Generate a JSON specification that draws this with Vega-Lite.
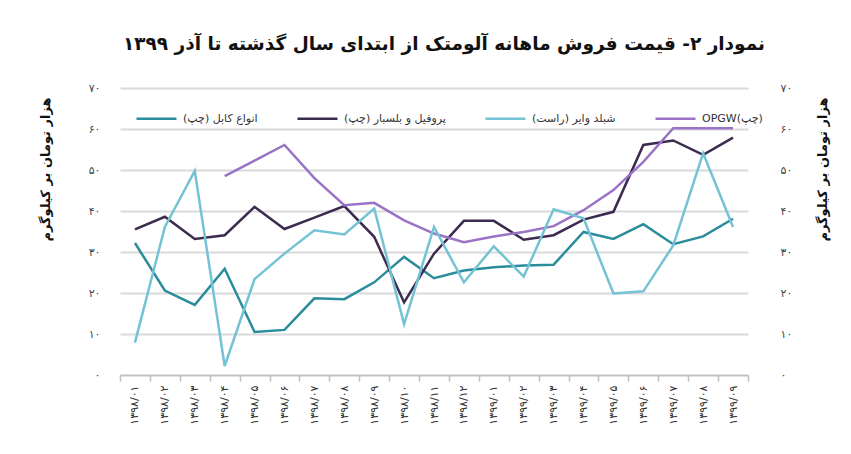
{
  "$schema": "https://vega.github.io/schema/vega-lite/v6.json",
  "width": 628,
  "height": 287,
  "autosize": {"type": "none"},
  "padding": {"left": 120, "top": 88, "right": 103, "bottom": 79},
  "background": "white",
  "config": {"font": "DejaVu Sans", "view": {"stroke": null}},
  "title": {
    "text": "نمودار ۲- قیمت فروش ماهانه آلومتک از ابتدای سال گذشته تا آذر ۱۳۹۹",
    "fontSize": 18.5,
    "fontWeight": "bold",
    "color": "#111111",
    "anchor": "middle",
    "dx": 10,
    "offset": 29
  },
  "data": {
    "values": [
      {"m": "۱۳۹۸/۰۱", "s": "انواع کابل (چپ)\u200f", "v": 32.2},
      {"m": "۱۳۹۸/۰۲", "s": "انواع کابل (چپ)\u200f", "v": 20.6},
      {"m": "۱۳۹۸/۰۳", "s": "انواع کابل (چپ)\u200f", "v": 17.1},
      {"m": "۱۳۹۸/۰۴", "s": "انواع کابل (چپ)\u200f", "v": 25.9},
      {"m": "۱۳۹۸/۰۵", "s": "انواع کابل (چپ)\u200f", "v": 10.5},
      {"m": "۱۳۹۸/۰۶", "s": "انواع کابل (چپ)\u200f", "v": 11.0},
      {"m": "۱۳۹۸/۰۷", "s": "انواع کابل (چپ)\u200f", "v": 18.7},
      {"m": "۱۳۹۸/۰۸", "s": "انواع کابل (چپ)\u200f", "v": 18.5},
      {"m": "۱۳۹۸/۰۹", "s": "انواع کابل (چپ)\u200f", "v": 22.6},
      {"m": "۱۳۹۸/۱۰", "s": "انواع کابل (چپ)\u200f", "v": 28.8},
      {"m": "۱۳۹۸/۱۱", "s": "انواع کابل (چپ)\u200f", "v": 23.6},
      {"m": "۱۳۹۸/۱۲", "s": "انواع کابل (چپ)\u200f", "v": 25.5},
      {"m": "۱۳۹۹/۰۱", "s": "انواع کابل (چپ)\u200f", "v": 26.3},
      {"m": "۱۳۹۹/۰۲", "s": "انواع کابل (چپ)\u200f", "v": 26.7},
      {"m": "۱۳۹۹/۰۳", "s": "انواع کابل (چپ)\u200f", "v": 26.9},
      {"m": "۱۳۹۹/۰۴", "s": "انواع کابل (چپ)\u200f", "v": 34.9},
      {"m": "۱۳۹۹/۰۵", "s": "انواع کابل (چپ)\u200f", "v": 33.2},
      {"m": "۱۳۹۹/۰۶", "s": "انواع کابل (چپ)\u200f", "v": 36.8},
      {"m": "۱۳۹۹/۰۷", "s": "انواع کابل (چپ)\u200f", "v": 31.9},
      {"m": "۱۳۹۹/۰۸", "s": "انواع کابل (چپ)\u200f", "v": 33.8},
      {"m": "۱۳۹۹/۰۹", "s": "انواع کابل (چپ)\u200f", "v": 38.1},

      {"m": "۱۳۹۸/۰۱", "s": "پروفیل و بلسبار (چپ)\u200f", "v": 35.5},
      {"m": "۱۳۹۸/۰۲", "s": "پروفیل و بلسبار (چپ)\u200f", "v": 38.6},
      {"m": "۱۳۹۸/۰۳", "s": "پروفیل و بلسبار (چپ)\u200f", "v": 33.2},
      {"m": "۱۳۹۸/۰۴", "s": "پروفیل و بلسبار (چپ)\u200f", "v": 34.1},
      {"m": "۱۳۹۸/۰۵", "s": "پروفیل و بلسبار (چپ)\u200f", "v": 41.0},
      {"m": "۱۳۹۸/۰۶", "s": "پروفیل و بلسبار (چپ)\u200f", "v": 35.6},
      {"m": "۱۳۹۸/۰۷", "s": "پروفیل و بلسبار (چپ)\u200f", "v": 38.4},
      {"m": "۱۳۹۸/۰۸", "s": "پروفیل و بلسبار (چپ)\u200f", "v": 41.2},
      {"m": "۱۳۹۸/۰۹", "s": "پروفیل و بلسبار (چپ)\u200f", "v": 33.7},
      {"m": "۱۳۹۸/۱۰", "s": "پروفیل و بلسبار (چپ)\u200f", "v": 17.7},
      {"m": "۱۳۹۸/۱۱", "s": "پروفیل و بلسبار (چپ)\u200f", "v": 29.6},
      {"m": "۱۳۹۸/۱۲", "s": "پروفیل و بلسبار (چپ)\u200f", "v": 37.6},
      {"m": "۱۳۹۹/۰۱", "s": "پروفیل و بلسبار (چپ)\u200f", "v": 37.6},
      {"m": "۱۳۹۹/۰۲", "s": "پروفیل و بلسبار (چپ)\u200f", "v": 33.0},
      {"m": "۱۳۹۹/۰۳", "s": "پروفیل و بلسبار (چپ)\u200f", "v": 34.1},
      {"m": "۱۳۹۹/۰۴", "s": "پروفیل و بلسبار (چپ)\u200f", "v": 37.9},
      {"m": "۱۳۹۹/۰۵", "s": "پروفیل و بلسبار (چپ)\u200f", "v": 39.8},
      {"m": "۱۳۹۹/۰۶", "s": "پروفیل و بلسبار (چپ)\u200f", "v": 56.1},
      {"m": "۱۳۹۹/۰۷", "s": "پروفیل و بلسبار (چپ)\u200f", "v": 57.2},
      {"m": "۱۳۹۹/۰۸", "s": "پروفیل و بلسبار (چپ)\u200f", "v": 53.7},
      {"m": "۱۳۹۹/۰۹", "s": "پروفیل و بلسبار (چپ)\u200f", "v": 57.9},

      {"m": "۱۳۹۸/۰۱", "s": "شبلد وایر (راست)\u200f", "v": 7.9},
      {"m": "۱۳۹۸/۰۲", "s": "شبلد وایر (راست)\u200f", "v": 36.1},
      {"m": "۱۳۹۸/۰۳", "s": "شبلد وایر (راست)\u200f", "v": 49.8},
      {"m": "۱۳۹۸/۰۴", "s": "شبلد وایر (راست)\u200f", "v": 2.2},
      {"m": "۱۳۹۸/۰۵", "s": "شبلد وایر (راست)\u200f", "v": 23.4},
      {"m": "۱۳۹۸/۰۶", "s": "شبلد وایر (راست)\u200f", "v": 29.6},
      {"m": "۱۳۹۸/۰۷", "s": "شبلد وایر (راست)\u200f", "v": 35.3},
      {"m": "۱۳۹۸/۰۸", "s": "شبلد وایر (راست)\u200f", "v": 34.3},
      {"m": "۱۳۹۸/۰۹", "s": "شبلد وایر (راست)\u200f", "v": 40.6},
      {"m": "۱۳۹۸/۱۰", "s": "شبلد وایر (راست)\u200f", "v": 12.4},
      {"m": "۱۳۹۸/۱۱", "s": "شبلد وایر (راست)\u200f", "v": 36.1},
      {"m": "۱۳۹۸/۱۲", "s": "شبلد وایر (راست)\u200f", "v": 22.6},
      {"m": "۱۳۹۹/۰۱", "s": "شبلد وایر (راست)\u200f", "v": 31.4},
      {"m": "۱۳۹۹/۰۲", "s": "شبلد وایر (راست)\u200f", "v": 24.0},
      {"m": "۱۳۹۹/۰۳", "s": "شبلد وایر (راست)\u200f", "v": 40.4},
      {"m": "۱۳۹۹/۰۴", "s": "شبلد وایر (راست)\u200f", "v": 38.2},
      {"m": "۱۳۹۹/۰۵", "s": "شبلد وایر (راست)\u200f", "v": 19.9},
      {"m": "۱۳۹۹/۰۶", "s": "شبلد وایر (راست)\u200f", "v": 20.4},
      {"m": "۱۳۹۹/۰۷", "s": "شبلد وایر (راست)\u200f", "v": 31.6},
      {"m": "۱۳۹۹/۰۸", "s": "شبلد وایر (راست)\u200f", "v": 54.1},
      {"m": "۱۳۹۹/۰۹", "s": "شبلد وایر (راست)\u200f", "v": 36.1},

      {"m": "۱۳۹۸/۰۴", "s": "OPGW(چپ)", "v": 48.5},
      {"m": "۱۳۹۸/۰۵", "s": "OPGW(چپ)", "v": 52.3},
      {"m": "۱۳۹۸/۰۶", "s": "OPGW(چپ)", "v": 56.1},
      {"m": "۱۳۹۸/۰۷", "s": "OPGW(چپ)", "v": 48.0},
      {"m": "۱۳۹۸/۰۸", "s": "OPGW(چپ)", "v": 41.4},
      {"m": "۱۳۹۸/۰۹", "s": "OPGW(چپ)", "v": 42.0},
      {"m": "۱۳۹۸/۱۰", "s": "OPGW(چپ)", "v": 37.7},
      {"m": "۱۳۹۸/۱۱", "s": "OPGW(چپ)", "v": 34.5},
      {"m": "۱۳۹۸/۱۲", "s": "OPGW(چپ)", "v": 32.4},
      {"m": "۱۳۹۹/۰۱", "s": "OPGW(چپ)", "v": 33.8},
      {"m": "۱۳۹۹/۰۲", "s": "OPGW(چپ)", "v": 34.9},
      {"m": "۱۳۹۹/۰۳", "s": "OPGW(چپ)", "v": 36.3},
      {"m": "۱۳۹۹/۰۴", "s": "OPGW(چپ)", "v": 40.2},
      {"m": "۱۳۹۹/۰۵", "s": "OPGW(چپ)", "v": 45.1},
      {"m": "۱۳۹۹/۰۶", "s": "OPGW(چپ)", "v": 52.0},
      {"m": "۱۳۹۹/۰۷", "s": "OPGW(چپ)", "v": 60.2},
      {"m": "۱۳۹۹/۰۸", "s": "OPGW(چپ)", "v": 60.2},
      {"m": "۱۳۹۹/۰۹", "s": "OPGW(چپ)", "v": 60.2}
    ]
  },
  "encoding": {
    "x": {
      "field": "m",
      "type": "ordinal",
      "bandPosition": 0.5,
      "scale": {
        "type": "band",
        "paddingInner": 0,
        "paddingOuter": 0,
        "domain": ["۱۳۹۸/۰۱","۱۳۹۸/۰۲","۱۳۹۸/۰۳","۱۳۹۸/۰۴","۱۳۹۸/۰۵","۱۳۹۸/۰۶","۱۳۹۸/۰۷","۱۳۹۸/۰۸","۱۳۹۸/۰۹","۱۳۹۸/۱۰","۱۳۹۸/۱۱","۱۳۹۸/۱۲","۱۳۹۹/۰۱","۱۳۹۹/۰۲","۱۳۹۹/۰۳","۱۳۹۹/۰۴","۱۳۹۹/۰۵","۱۳۹۹/۰۶","۱۳۹۹/۰۷","۱۳۹۹/۰۸","۱۳۹۹/۰۹"]
      },
      "axis": {
        "title": null,
        "tickBand": "extent",
        "labelAngle": 270,
        "labelFontSize": 11,
        "labelColor": "#333333",
        "labelPadding": 4,
        "domainColor": "#bfbfbf",
        "domainWidth": 1.5,
        "tickColor": "#bfbfbf",
        "tickWidth": 1.5,
        "tickSize": 6,
        "grid": false
      }
    },
    "color": {
      "field": "s",
      "type": "nominal",
      "scale": {
        "domain": ["انواع کابل (چپ)\u200f", "پروفیل و بلسبار (چپ)\u200f", "شبلد وایر (راست)\u200f", "OPGW(چپ)"],
        "range": ["#2b8c9c", "#3d2b4f", "#74c3d5", "#9a73c6"]
      },
      "legend": {
        "orient": "none",
        "legendX": 15,
        "legendY": 9,
        "direction": "horizontal",
        "title": null,
        "symbolType": "stroke",
        "symbolSize": 1600,
        "symbolStrokeWidth": 2.5,
        "labelFontSize": 11,
        "labelColor": "#333333",
        "labelOffset": 5,
        "labelLimit": 300,
        "columnPadding": 34
      }
    }
  },
  "layer": [
    {
      "transform": [{"filter": "indexof(datum.s, 'راست') < 0"}],
      "mark": {"type": "line", "strokeWidth": 2.5},
      "encoding": {
        "y": {
          "field": "v",
          "type": "quantitative",
          "scale": {"domain": [0, 70], "nice": false},
          "axis": {
            "orient": "left",
            "title": "هزار تومان بر کیلوگرم",
            "values": [0, 10, 20, 30, 40, 50, 60, 70],
            "labelExpr": "['۰','۱۰','۲۰','۳۰','۴۰','۵۰','۶۰','۷۰'][round(datum.value/10)]",
            "labelFontSize": 11,
            "labelColor": "#444444",
            "labelPadding": 20,
            "domain": false,
            "ticks": false,
            "grid": true,
            "gridColor": "#d9d9d9",
            "gridWidth": 2,
            "titleAngle": 270,
            "titleX": -75,
            "titleY": 81,
            "titleAlign": "center",
            "titleBaseline": "middle",
            "titleFontSize": 13,
            "titleFontWeight": "bold",
            "titleColor": "#111111"
          }
        }
      }
    },
    {
      "transform": [{"filter": "indexof(datum.s, 'راست') >= 0"}],
      "mark": {"type": "line", "strokeWidth": 2.5},
      "encoding": {
        "y": {
          "field": "v",
          "type": "quantitative",
          "scale": {"domain": [0, 70], "nice": false},
          "axis": {
            "orient": "right",
            "title": "هزار تومان بر کیلوگرم",
            "values": [0, 10, 20, 30, 40, 50, 60, 70],
            "labelExpr": "['۰','۱۰','۲۰','۳۰','۴۰','۵۰','۶۰','۷۰'][round(datum.value/10)]",
            "labelFontSize": 11,
            "labelColor": "#444444",
            "labelPadding": 32,
            "domain": false,
            "ticks": false,
            "grid": false,
            "titleAngle": 270,
            "titleX": 74,
            "titleY": 81,
            "titleAlign": "center",
            "titleBaseline": "middle",
            "titleFontSize": 13,
            "titleFontWeight": "bold",
            "titleColor": "#111111"
          }
        }
      }
    }
  ],
  "resolve": {"scale": {"y": "independent"}}
}
